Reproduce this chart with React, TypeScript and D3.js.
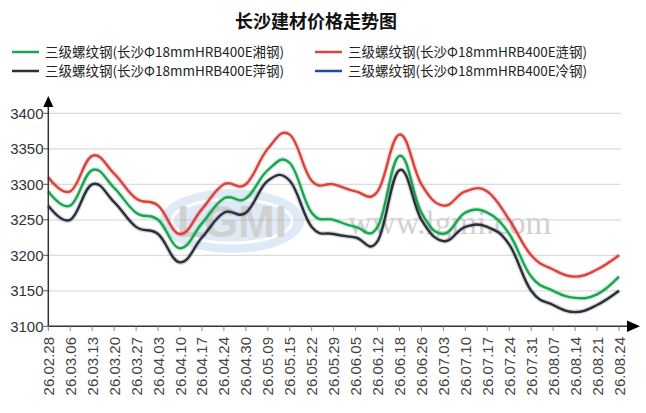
import React, { useRef, useEffect } from 'react';
import * as d3 from 'd3';

const dates = [
  '26.02.28', '26.03.06', '26.03.13', '26.03.20', '26.03.27', '26.04.03', '26.04.10',
  '26.04.17', '26.04.24', '26.04.30', '26.05.09', '26.05.15', '26.05.22', '26.05.29',
  '26.06.05', '26.06.12', '26.06.18', '26.06.26', '26.07.03', '26.07.10', '26.07.17',
  '26.07.24', '26.07.31', '26.08.07', '26.08.14', '26.08.21', '26.08.24',
];

// 湘钢
const xiangGang = [
  3290, 3270, 3320, 3295, 3260, 3250, 3210, 3245, 3280, 3280, 3320, 3330, 3260, 3250,
  3240, 3240, 3340, 3260, 3230, 3260, 3260, 3230, 3170, 3150, 3140, 3145, 3170,
];
// 涟钢
const lianGang = [
  3310, 3290, 3340, 3315, 3280, 3270, 3230, 3265, 3300, 3300, 3350, 3370, 3305, 3300,
  3290, 3290, 3370, 3300, 3270, 3290, 3290, 3250, 3200, 3180, 3170, 3180, 3200,
];
// 萍钢
const pingGang = [
  3270, 3250, 3300, 3275, 3240, 3230, 3190, 3225, 3260, 3260, 3305, 3305, 3240, 3230,
  3225, 3220, 3320, 3250, 3220, 3240, 3240, 3215, 3150, 3130, 3120, 3130, 3150,
];
// 冷钢: no values shown
const lengGang: number[] = [];

const yTicks = [3100, 3150, 3200, 3250, 3300, 3350, 3400];

const series = [
  { name: '三级螺纹钢(长沙Φ18mmHRB400E湘钢)', values: xiangGang, color: '#1aa552' },
  { name: '三级螺纹钢(长沙Φ18mmHRB400E涟钢)', values: lianGang, color: '#d9433c' },
  { name: '三级螺纹钢(长沙Φ18mmHRB400E萍钢)', values: pingGang, color: '#2b2f3b' },
  { name: '三级螺纹钢(长沙Φ18mmHRB400E冷钢)', values: lengGang, color: '#2148ad' },
];

export default function App() {
  const svgRef = useRef<SVGSVGElement>(null);

  useEffect(() => {
    const svg = d3.select(svgRef.current);
    svg.selectAll('*').remove();
    if (!svgRef.current) return;

    const width = 646;
    const height = 413;
    svg.attr('viewBox', `0 0 ${width} ${height}`);
    svg.append('rect').attr('width', width).attr('height', height).attr('fill', 'white');

    const left = 48.3;
    const right = 619;
    const x = d3.scalePoint<string>().domain(dates).range([left, right]);
    const y = d3.scaleLinear().domain([3100, 3400]).range([326.3, 113.3]);

    const font = '"Liberation Sans", Arial, sans-serif';
    const cjk = '"Noto Sans CJK SC", "Noto Sans", sans-serif';

    // Title
    svg.append('text').attr('x', 316).attr('y', 28).attr('text-anchor', 'middle')
      .attr('font-family', cjk).attr('font-weight', 'bold').attr('font-size', 18)
      .attr('fill', '#111').text('长沙建材价格走势图');

    // Legend
    series.forEach((s, i) => {
      const lx = i % 2 === 0 ? 12 : 315;
      const ly = i < 2 ? 52 : 71;
      svg.append('line').attr('x1', lx).attr('x2', lx + 27).attr('y1', ly).attr('y2', ly)
        .attr('stroke', s.color).attr('stroke-width', 2.5);
      svg.append('text').attr('x', lx + 33).attr('y', ly + 5)
        .attr('font-family', cjk).attr('font-size', 13.5).attr('fill', '#222')
        .text(s.name);
    });

    // Grid lines + y labels
    for (const t of yTicks) {
      if (t !== 3100) {
        svg.append('line').attr('x1', left).attr('x2', 621).attr('y1', y(t)).attr('y2', y(t))
          .attr('stroke', '#dcdcdc').attr('stroke-width', 1.2);
      }
      svg.append('line').attr('x1', left - 5).attr('x2', left).attr('y1', y(t)).attr('y2', y(t))
        .attr('stroke', '#555');
      svg.append('text').attr('x', 43.5).attr('y', y(t) + 5.5).attr('text-anchor', 'end')
        .attr('font-family', font).attr('font-size', 15).attr('fill', '#333').text(t);
    }

    // Watermark
    const wm = svg.append('g').attr('opacity', 0.45);
    wm.append('ellipse').attr('cx', 232).attr('cy', 221).attr('rx', 72).attr('ry', 32)
      .attr('fill', '#b9d1ee');
    wm.append('ellipse').attr('cx', 232).attr('cy', 221).attr('rx', 60).attr('ry', 22)
      .attr('fill', 'none').attr('stroke', 'white').attr('stroke-width', 3);
    wm.append('text').attr('x', 232).attr('y', 237).attr('text-anchor', 'middle')
      .attr('font-family', font).attr('font-weight', 'bold').attr('font-size', 44)
      .attr('fill', '#9a9a9a').text('LGMI');
    svg.append('text').attr('x', 348).attr('y', 234)
      .attr('font-family', '"Liberation Serif", serif').attr('font-size', 33)
      .attr('fill', '#d2d2d2').text('www.lgmi.com');

    // Series lines
    const line = d3.line<number>()
      .x((_, i) => x(dates[i]) as number)
      .y((d) => y(d))
      .curve(d3.curveCardinal.tension(-0.2));

    for (const s of [lianGang, xiangGang, pingGang].map((v) => series.find((o) => o.values === v)!)) {
      if (!s.values.length) continue;
      svg.append('path').datum(s.values).attr('d', line).attr('fill', 'none')
        .attr('stroke', s.color).attr('stroke-width', 5).attr('stroke-opacity', 0.18);
      svg.append('path').datum(s.values).attr('d', line).attr('fill', 'none')
        .attr('stroke', s.color).attr('stroke-width', 2.4);
    }

    // Axes
    const axisColor = '#333';
    svg.append('line').attr('x1', left).attr('x2', left).attr('y1', 104).attr('y2', 326.3)
      .attr('stroke', axisColor).attr('stroke-width', 1.5);
    svg.append('path').attr('d', `M${left - 5},107 L${left},96 L${left + 5},107 Z`).attr('fill', '#000');
    svg.append('line').attr('x1', left).attr('x2', 630).attr('y1', 326.3).attr('y2', 326.3)
      .attr('stroke', axisColor).attr('stroke-width', 1.5);
    svg.append('path').attr('d', `M627,320.5 L640,326.3 L627,332 Z`).attr('fill', '#000');

    // X ticks and labels
    for (const d of dates) {
      const px = x(d) as number;
      svg.append('line').attr('x1', px).attr('x2', px).attr('y1', 326.3).attr('y2', 331)
        .attr('stroke', '#888');
      svg.append('text')
        .attr('transform', `translate(${px + 5.5},${337}) rotate(-90)`)
        .attr('text-anchor', 'end').attr('font-family', font).attr('font-size', 15)
        .attr('fill', '#444').text(d);
    }
  }, []);

  return (
    <svg
      ref={svgRef}
      width={646}
      height={413}
      style={{ position: 'absolute', left: 0, top: 0, display: 'block' }}
    />
  );
}
